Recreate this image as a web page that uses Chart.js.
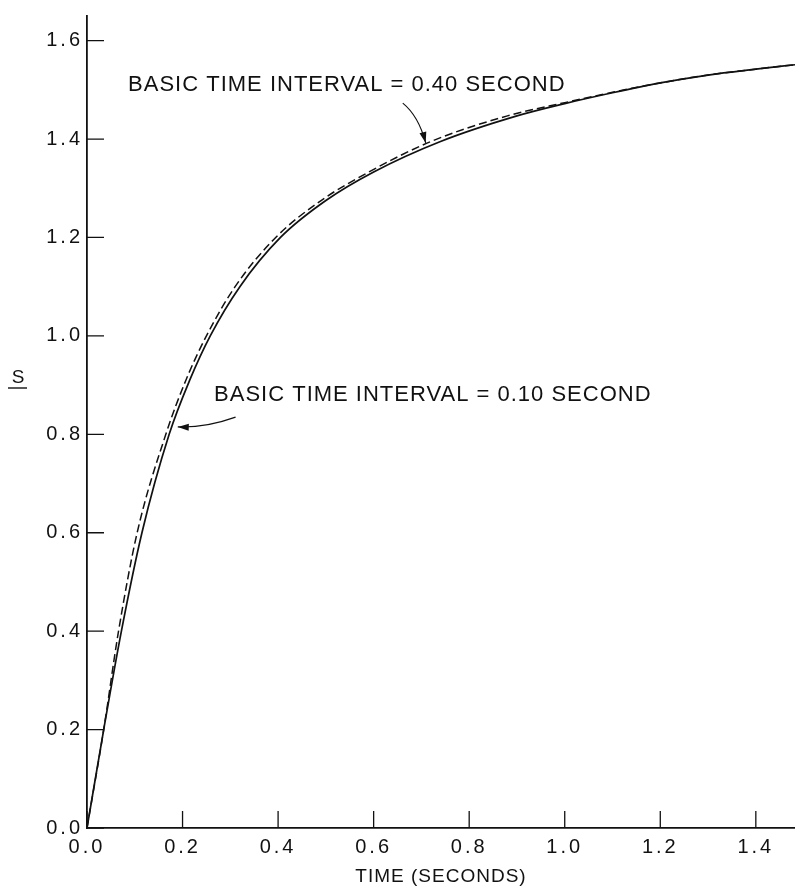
<!DOCTYPE html>
<html>
<head>
<meta charset="utf-8">
<title>S vs time</title>
<script src="https://cdn.jsdelivr.net/npm/chart.js@4/dist/chart.umd.min.js"></script>
<style>
  html, body { margin: 0; padding: 0; background: #fff; }
  #wrap { width: 795px; height: 893px; }
</style>
</head>
<body>
<div id="wrap"><canvas id="chart" width="795" height="893"></canvas></div>
<script>
// curve for basic time interval 0.10 s (solid)
const timeFine = [0, 0.035, 0.072, 0.115, 0.172, 0.215, 0.258, 0.32, 0.405, 0.50, 0.60, 0.74, 0.90, 1.00, 1.10, 1.20, 1.30, 1.40, 1.482];
const sFine    = [0, 0.20, 0.40, 0.60, 0.80, 0.91, 1.00, 1.10, 1.20, 1.275, 1.333, 1.395, 1.447, 1.472, 1.494, 1.514, 1.530, 1.542, 1.551];

// curve for basic time interval 0.40 s (dashed)
const timeCoarse = [0, 0.035, 0.066, 0.105, 0.165, 0.207, 0.250, 0.31, 0.395, 0.49, 0.59, 0.72, 0.88, 1.00, 1.10, 1.20, 1.30, 1.40, 1.482];
const sCoarse    = [0, 0.20, 0.40, 0.60, 0.80, 0.91, 1.00, 1.10, 1.20, 1.275, 1.333, 1.395, 1.447, 1.474, 1.495, 1.514, 1.530, 1.542, 1.551];

const xTicks = [0, 0.2, 0.4, 0.6, 0.8, 1.0, 1.2, 1.4];
const yTicks = [0, 0.2, 0.4, 0.6, 0.8, 1.0, 1.2, 1.4, 1.6];

// annotation text + arrows, anchored in data units
const notes = [
  { text: "BASIC TIME INTERVAL = 0.40 SECOND", at: [0.086, 1.510],
    from: [0.661, 1.473], ctrl: [0.694, 1.447], tip: [0.709, 1.392] },
  { text: "BASIC TIME INTERVAL = 0.10 SECOND", at: [0.266, 0.880],
    from: [0.311, 0.835], ctrl: [0.248, 0.813], tip: [0.190, 0.815] }
];

const FONT = "'Liberation Sans', Arial, sans-serif";
const INK = "#111";

const toPoints = (xs, ys) => xs.map((x, i) => ({ x, y: ys[i] }));

const drawExtras = {
  id: "drawExtras",
  beforeDraw(chart) {
    chart.ctx.letterSpacing = "3px";
  },
  afterDraw(chart) {
    const { ctx, scales: { x, y }, chartArea } = chart;
    ctx.save();
    ctx.letterSpacing = "0px";

    // inward tick marks
    ctx.strokeStyle = INK;
    ctx.lineWidth = 1.3;
    ctx.beginPath();
    for (const v of xTicks) {
      const px = x.getPixelForValue(v);
      ctx.moveTo(px, chartArea.bottom);
      ctx.lineTo(px, chartArea.bottom - 17);
    }
    for (const v of yTicks) {
      const py = y.getPixelForValue(v);
      ctx.moveTo(chartArea.left, py);
      ctx.lineTo(chartArea.left + 17, py);
    }
    ctx.stroke();

    // annotations
    ctx.fillStyle = INK;
    ctx.font = "22px " + FONT;
    ctx.textBaseline = "middle";
    ctx.textAlign = "left";
    for (const n of notes) {
      ctx.letterSpacing = "1px";
      ctx.fillText(n.text, x.getPixelForValue(n.at[0]), y.getPixelForValue(n.at[1]));
      ctx.letterSpacing = "0px";

      const sx = x.getPixelForValue(n.from[0]), sy = y.getPixelForValue(n.from[1]);
      const cx = x.getPixelForValue(n.ctrl[0]), cy = y.getPixelForValue(n.ctrl[1]);
      const tx = x.getPixelForValue(n.tip[0]), ty = y.getPixelForValue(n.tip[1]);
      ctx.lineWidth = 1.2;
      ctx.beginPath();
      ctx.moveTo(sx, sy);
      ctx.quadraticCurveTo(cx, cy, tx, ty);
      ctx.stroke();
      const ang = Math.atan2(ty - cy, tx - cx);
      ctx.beginPath();
      ctx.moveTo(tx, ty);
      ctx.lineTo(tx - 11 * Math.cos(ang) + 3.5 * Math.sin(ang), ty - 11 * Math.sin(ang) - 3.5 * Math.cos(ang));
      ctx.lineTo(tx - 11 * Math.cos(ang) - 3.5 * Math.sin(ang), ty - 11 * Math.sin(ang) + 3.5 * Math.cos(ang));
      ctx.closePath();
      ctx.fill();
    }

    // axis titles
    ctx.font = "19px " + FONT;
    ctx.textAlign = "center";
    ctx.letterSpacing = "1px";
    ctx.fillText("TIME (SECONDS)", (chartArea.left + chartArea.right) / 2, 877);
    ctx.letterSpacing = "0px";
    ctx.fillText("S", 18, 378);
    ctx.lineWidth = 1.4;
    ctx.beginPath();
    ctx.moveTo(8, 388);
    ctx.lineTo(27, 388);
    ctx.stroke();
    ctx.restore();
  }
};

new Chart(document.getElementById("chart"), {
  type: "line",
  data: {
    datasets: [
      {
        label: "BASIC TIME INTERVAL = 0.10 SECOND",
        data: toPoints(timeFine, sFine),
        borderColor: INK,
        borderWidth: 1.7,
        pointRadius: 0,
        cubicInterpolationMode: "monotone",
        fill: false
      },
      {
        label: "BASIC TIME INTERVAL = 0.40 SECOND",
        data: toPoints(timeCoarse, sCoarse),
        borderColor: INK,
        borderWidth: 1.5,
        borderDash: [8, 4],
        pointRadius: 0,
        cubicInterpolationMode: "monotone",
        fill: false
      }
    ]
  },
  options: {
    responsive: false,
    animation: false,
    layout: { padding: { top: 13, right: 0, left: 0, bottom: 0 } },
    plugins: { legend: { display: false }, tooltip: { enabled: false } },
    scales: {
      x: {
        type: "linear",
        min: 0,
        max: 1.482,
        afterFit: (s) => { s.height = 65; },
        afterBuildTicks: (s) => { s.ticks = xTicks.map((v) => ({ value: v })); },
        grid: { display: false, drawTicks: false },
        border: { display: true, color: INK, width: 1.8 },
        ticks: {
          padding: 7,
          color: INK,
          font: { size: 20, family: FONT },
          maxRotation: 0,
          autoSkip: false,
          callback: (v) => Number(v).toFixed(1)
        }
      },
      y: {
        min: 0,
        max: 1.65,
        afterFit: (s) => { s.width = 87; },
        afterBuildTicks: (s) => { s.ticks = yTicks.map((v) => ({ value: v })); },
        grid: { display: false, drawTicks: false },
        border: { display: true, color: INK, width: 1.8 },
        ticks: {
          padding: 4,
          color: INK,
          font: { size: 20, family: FONT },
          autoSkip: false,
          callback: (v) => Number(v).toFixed(1)
        }
      }
    }
  },
  plugins: [drawExtras]
});
</script>
</body>
</html>
